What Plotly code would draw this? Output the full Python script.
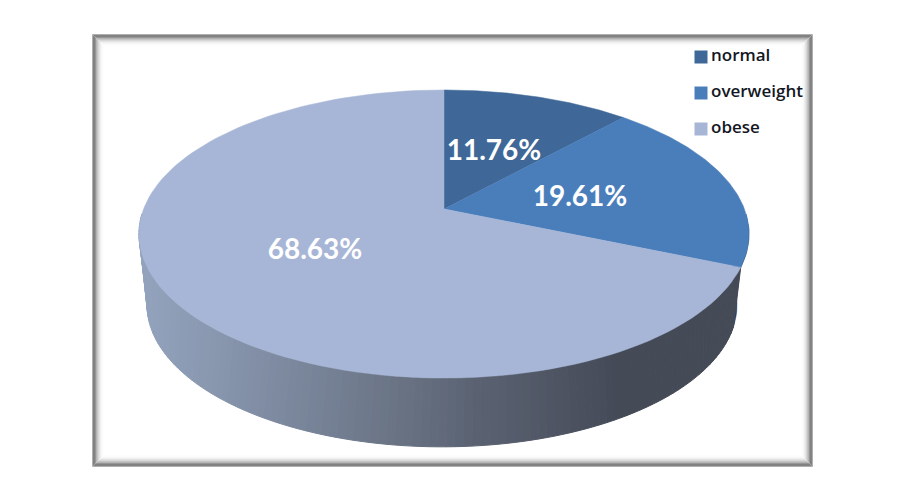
import numpy as np
import plotly.graph_objects as go

categories = ["normal", "overweight", "obese"]
values = [11.76, 19.61, 68.63]
value_labels = ["11.76%", "19.61%", "68.63%"]
top_colors = ["#3F6797", "#4A7EBB", "#A7B6D6"]
label_xy = [(494, 153), (580, 199), (315, 252)]
legend_swatch_xy = [(701, 57), (701, 93), (701, 129)]
legend_text_xy = [(711, 57), (711, 93), (711, 129)]

# perspective model of the pie disc, in page pixels
CX = 444
TOP = dict(k=0.1736, sx=300.4, sy=139.7, y0=209.0, cx=CX)
BOT = dict(k=0.25, sx=285.6, sy=133.0, y0=269.5, cx=442)


def rim(a, p):
    den = 1 + p["k"] * np.cos(a)
    return p["cx"] + p["sx"] * np.sin(a) / den, p["y0"] - p["sy"] * np.cos(a) / den


def wall_color(x):
    xs = [140, 220, 300, 400, 470, 560, 620, 760]
    rs = [148, 136, 122, 105, 92, 78, 69, 69]
    gs = [164, 150, 134, 115, 100, 84, 74, 74]
    bs = [190, 174, 155, 132, 116, 98, 87, 87]
    return "rgb(%d,%d,%d)" % (np.interp(x, xs, rs), np.interp(x, xs, gs), np.interp(x, xs, bs))


fracs = np.cumsum([0] + values) / sum(values) * 2 * np.pi
fig = go.Figure()

# side wall: dark sliver of the overweight slice, then the obese slice
sliver = np.radians(np.linspace(92, np.degrees(fracs[2]) + 0.5, 14))
xt, yt = rim(sliver, TOP)
xb, yb = rim(sliver, BOT)
fig.add_trace(go.Scatter(x=list(xt) + list(xb[::-1]), y=list(yt) + list(yb[::-1]), fill="toself",
                         fillcolor="#1A3C6C", mode="lines", line=dict(width=0.5, color="#1A3C6C"),
                         hoverinfo="skip", showlegend=False))
edges = np.linspace(fracs[2], np.radians(268), 120)
for a0, a1 in zip(edges[:-1], edges[1:]):
    seg = np.array([a0, a1])
    xt, yt = rim(seg, TOP)
    xb, yb = rim(seg, BOT)
    col = wall_color((xb.mean() + xt.mean()) / 2)
    fig.add_trace(go.Scatter(x=[xt[0], xt[1], xb[1], xb[0], xt[0]], y=[yt[0], yt[1], yb[1], yb[0], yt[0]],
                             fill="toself", fillcolor=col, mode="lines", line=dict(width=1, color=col),
                             hoverinfo="skip", showlegend=False))

# top face
for i, name in enumerate(categories):
    a = np.linspace(fracs[i], fracs[i + 1], 120)
    x, y = rim(a, TOP)
    fig.add_trace(go.Scatter(x=[CX] + list(x) + [CX], y=[TOP["y0"]] + list(y) + [TOP["y0"]], fill="toself",
                             fillcolor=top_colors[i], mode="lines", line=dict(width=0.5, color=top_colors[i]),
                             name=name, showlegend=False, hoverinfo="skip"))

# value labels
fig.add_trace(go.Scatter(x=[p[0] for p in label_xy], y=[p[1] for p in label_xy], text=value_labels, mode="text",
                         textposition="middle center", hoverinfo="skip", showlegend=False,
                         textfont=dict(family="Lato", size=28, color="white", weight="bold")))

# legend
for i, name in enumerate(categories):
    fig.add_trace(go.Scatter(x=[legend_swatch_xy[i][0]], y=[legend_swatch_xy[i][1]], mode="markers",
                             hoverinfo="skip", showlegend=False,
                             marker=dict(symbol="square", size=13, color=top_colors[i])))
    fig.add_trace(go.Scatter(x=[legend_text_xy[i][0]], y=[legend_text_xy[i][1]], text=[name], mode="text",
                             textposition="middle right", hoverinfo="skip", showlegend=False,
                             textfont=dict(family="Open Sans", size=17, color="#14171f", weight=600)))

# soft inner-shadow frame
shapes = []
L, T, R, B = 92, 34, 813, 467
for t in range(0, 13):
    g = int(np.interp(t, [0, 1, 2, 3, 4, 6, 8, 10, 12], [175, 130, 130, 150, 180, 215, 240, 252, 255]))
    shapes.append(dict(type="rect", xref="x", yref="y", x0=L + t + 0.5, x1=R - t - 0.5, y0=T + t + 0.5, y1=B - t - 0.5,
                       line=dict(color="rgb(%d,%d,%d)" % (g, g, g), width=1), fillcolor="rgba(0,0,0,0)", layer="below"))

fig.update_layout(width=900, height=500, margin=dict(l=0, r=0, t=0, b=0), autosize=False,
                  paper_bgcolor="white", plot_bgcolor="white", shapes=shapes, showlegend=False,
                  xaxis=dict(range=[0, 900], visible=False, fixedrange=True),
                  yaxis=dict(range=[500, 0], visible=False, fixedrange=True))
fig.write_html("out.html", config=dict(displayModeBar=False),
               post_script="document.body.style.margin='0';document.body.style.overflow='hidden';")
